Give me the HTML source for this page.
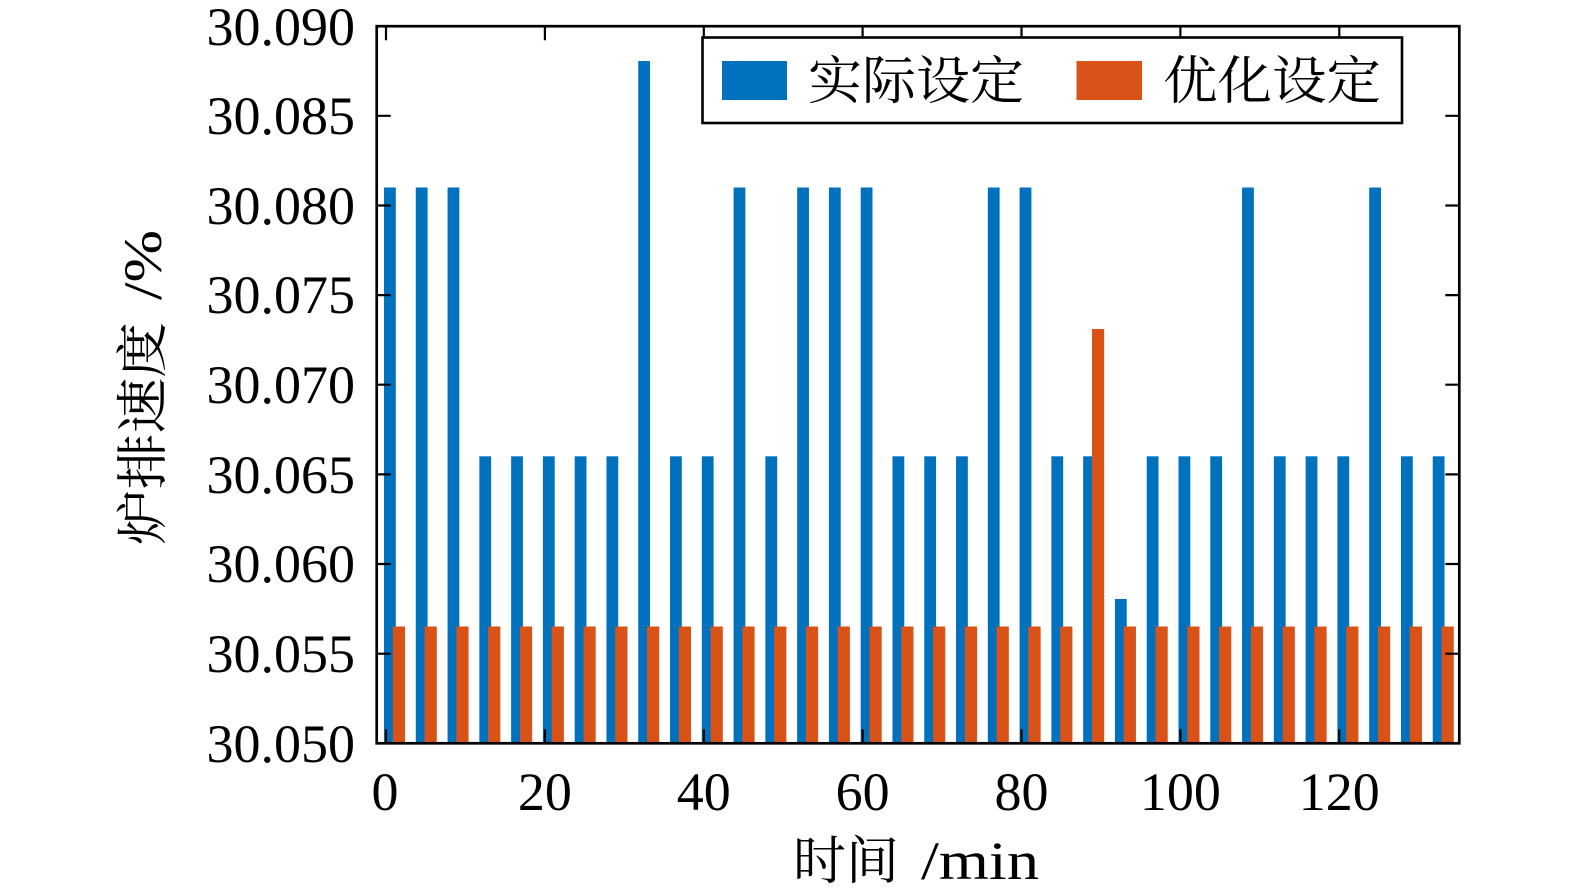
<!DOCTYPE html>
<html>
<head>
<meta charset="utf-8">
<style>
  html, body { margin:0; padding:0; background:#fff; }
  svg { display:block; }
  .num { font-family: "Liberation Serif", "DejaVu Serif", serif; font-size:54px; fill:#000; }
  .cjk { font-family: "Liberation Serif", "Noto Serif CJK SC", "Noto Sans CJK SC", serif; fill:#000; }
</style>
</head>
<body>
<svg width="1575" height="894" viewBox="0 0 1575 894" xmlns="http://www.w3.org/2000/svg">
  <rect x="0" y="0" width="1575" height="894" fill="#fff"/>

  <!-- blue bars -->
  <g fill="#0072BD">
    <rect x="384.00" y="187.5" width="11.8" height="555.8"/>
    <rect x="415.78" y="187.5" width="11.8" height="555.8"/>
    <rect x="447.56" y="187.5" width="11.8" height="555.8"/>
    <rect x="479.34" y="456.3" width="11.8" height="287"/>
    <rect x="511.12" y="456.3" width="11.8" height="287"/>
    <rect x="542.90" y="456.3" width="11.8" height="287"/>
    <rect x="574.68" y="456.3" width="11.8" height="287"/>
    <rect x="606.46" y="456.3" width="11.8" height="287"/>
    <rect x="638.24" y="61" width="11.8" height="682.3"/>
    <rect x="670.02" y="456.3" width="11.8" height="287"/>
    <rect x="701.80" y="456.3" width="11.8" height="287"/>
    <rect x="733.58" y="187.5" width="11.8" height="555.8"/>
    <rect x="765.36" y="456.3" width="11.8" height="287"/>
    <rect x="797.14" y="187.5" width="11.8" height="555.8"/>
    <rect x="828.92" y="187.5" width="11.8" height="555.8"/>
    <rect x="860.70" y="187.5" width="11.8" height="555.8"/>
    <rect x="892.48" y="456.3" width="11.8" height="287"/>
    <rect x="924.26" y="456.3" width="11.8" height="287"/>
    <rect x="956.04" y="456.3" width="11.8" height="287"/>
    <rect x="987.82" y="187.5" width="11.8" height="555.8"/>
    <rect x="1019.60" y="187.5" width="11.8" height="555.8"/>
    <rect x="1051.38" y="456.3" width="11.8" height="287"/>
    <rect x="1083.16" y="456.3" width="11.8" height="287"/>
    <rect x="1114.94" y="599" width="11.8" height="144.3"/>
    <rect x="1146.72" y="456.3" width="11.8" height="287"/>
    <rect x="1178.50" y="456.3" width="11.8" height="287"/>
    <rect x="1210.28" y="456.3" width="11.8" height="287"/>
    <rect x="1242.06" y="187.5" width="11.8" height="555.8"/>
    <rect x="1273.84" y="456.3" width="11.8" height="287"/>
    <rect x="1305.62" y="456.3" width="11.8" height="287"/>
    <rect x="1337.40" y="456.3" width="11.8" height="287"/>
    <rect x="1369.18" y="187.5" width="11.8" height="555.8"/>
    <rect x="1400.96" y="456.3" width="11.8" height="287"/>
    <rect x="1432.74" y="456.3" width="11.8" height="287"/>
  </g>

  <!-- orange bars -->
  <g fill="#D95319">
    <rect x="392.80" y="626.5" width="12.2" height="116.8"/>
    <rect x="424.58" y="626.5" width="12.2" height="116.8"/>
    <rect x="456.36" y="626.5" width="12.2" height="116.8"/>
    <rect x="488.14" y="626.5" width="12.2" height="116.8"/>
    <rect x="519.92" y="626.5" width="12.2" height="116.8"/>
    <rect x="551.70" y="626.5" width="12.2" height="116.8"/>
    <rect x="583.48" y="626.5" width="12.2" height="116.8"/>
    <rect x="615.26" y="626.5" width="12.2" height="116.8"/>
    <rect x="647.04" y="626.5" width="12.2" height="116.8"/>
    <rect x="678.82" y="626.5" width="12.2" height="116.8"/>
    <rect x="710.60" y="626.5" width="12.2" height="116.8"/>
    <rect x="742.38" y="626.5" width="12.2" height="116.8"/>
    <rect x="774.16" y="626.5" width="12.2" height="116.8"/>
    <rect x="805.94" y="626.5" width="12.2" height="116.8"/>
    <rect x="837.72" y="626.5" width="12.2" height="116.8"/>
    <rect x="869.50" y="626.5" width="12.2" height="116.8"/>
    <rect x="901.28" y="626.5" width="12.2" height="116.8"/>
    <rect x="933.06" y="626.5" width="12.2" height="116.8"/>
    <rect x="964.84" y="626.5" width="12.2" height="116.8"/>
    <rect x="996.62" y="626.5" width="12.2" height="116.8"/>
    <rect x="1028.40" y="626.5" width="12.2" height="116.8"/>
    <rect x="1060.18" y="626.5" width="12.2" height="116.8"/>
    <rect x="1091.96" y="329" width="12.2" height="414.3"/>
    <rect x="1123.74" y="626.5" width="12.2" height="116.8"/>
    <rect x="1155.52" y="626.5" width="12.2" height="116.8"/>
    <rect x="1187.30" y="626.5" width="12.2" height="116.8"/>
    <rect x="1219.08" y="626.5" width="12.2" height="116.8"/>
    <rect x="1250.86" y="626.5" width="12.2" height="116.8"/>
    <rect x="1282.64" y="626.5" width="12.2" height="116.8"/>
    <rect x="1314.42" y="626.5" width="12.2" height="116.8"/>
    <rect x="1346.20" y="626.5" width="12.2" height="116.8"/>
    <rect x="1377.98" y="626.5" width="12.2" height="116.8"/>
    <rect x="1409.76" y="626.5" width="12.2" height="116.8"/>
    <rect x="1441.54" y="626.5" width="12.2" height="116.8"/>
  </g>

  <!-- ticks -->
  <g stroke="#000" stroke-width="2.2" fill="none">
    <path d="M376.7 653.7h14 M376.7 564.0h14 M376.7 474.4h14 M376.7 384.7h14 M376.7 295.1h14 M376.7 205.5h14 M376.7 115.8h14"/>
    <path d="M1459.3 653.7h-14 M1459.3 564.0h-14 M1459.3 474.4h-14 M1459.3 384.7h-14 M1459.3 295.1h-14 M1459.3 205.5h-14 M1459.3 115.8h-14"/>
    <path d="M386 743.3v-14 M544.9 743.3v-14 M703.8 743.3v-14 M862.6 743.3v-14 M1021.5 743.3v-14 M1180.4 743.3v-14 M1339.3 743.3v-14"/>
    <path d="M386 26.2v14 M544.9 26.2v14 M703.8 26.2v14 M862.6 26.2v14 M1021.5 26.2v14 M1180.4 26.2v14 M1339.3 26.2v14"/>
  </g>

  <!-- axes box -->
  <rect x="376.7" y="26.2" width="1082.6" height="717.1" fill="none" stroke="#000" stroke-width="2.7"/>

  <!-- legend -->
  <rect x="702.5" y="37.5" width="699.5" height="85.5" fill="#fff" stroke="#000" stroke-width="2.6"/>
  <rect x="722" y="61" width="65" height="39" fill="#0072BD"/>
  <rect x="1076.5" y="61" width="65.5" height="39" fill="#D95319"/>
  <text class="cjk" x="808" y="99" font-size="52" textLength="216" lengthAdjust="spacingAndGlyphs">实际设定</text>
  <text class="cjk" x="1163" y="99" font-size="52" textLength="218" lengthAdjust="spacingAndGlyphs">优化设定</text>

  <!-- y tick labels -->
  <g class="num" text-anchor="end">
    <text x="355" y="762">30.050</text>
    <text x="355" y="672">30.055</text>
    <text x="355" y="582">30.060</text>
    <text x="355" y="493">30.065</text>
    <text x="355" y="403">30.070</text>
    <text x="355" y="313">30.075</text>
    <text x="355" y="224">30.080</text>
    <text x="355" y="134">30.085</text>
    <text x="355" y="45">30.090</text>
  </g>

  <!-- x tick labels -->
  <g class="num" text-anchor="middle">
    <text x="385" y="810">0</text>
    <text x="544.9" y="810">20</text>
    <text x="703.8" y="810">40</text>
    <text x="862.6" y="810">60</text>
    <text x="1021.5" y="810">80</text>
    <text x="1180.4" y="810">100</text>
    <text x="1339.3" y="810">120</text>
  </g>

  <!-- x axis label -->
  <text class="cjk" x="793" y="879" font-size="52" textLength="106" lengthAdjust="spacingAndGlyphs">时间</text>
  <text class="num" x="921" y="879" font-size="54" textLength="118" lengthAdjust="spacingAndGlyphs">/min</text>

  <!-- y axis label -->
  <g transform="translate(161 545) rotate(-90)">
    <text class="cjk" x="0" y="0" font-size="52" textLength="223" lengthAdjust="spacingAndGlyphs">炉排速度</text>
  </g>
  <g transform="translate(161 300) rotate(-90)">
    <text class="num" x="0" y="0" font-size="52" textLength="70" lengthAdjust="spacingAndGlyphs">/%</text>
  </g>
</svg>
</body>
</html>
